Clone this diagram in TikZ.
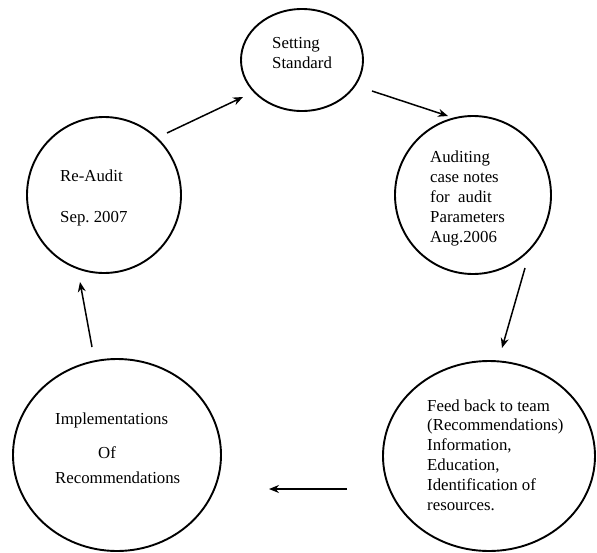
\documentclass[tikz,border=0pt]{standalone}
\usepackage{fontspec}
\setmainfont{Liberation Serif}
\usetikzlibrary{shapes.geometric,arrows.meta}
\frenchspacing
\begin{document}
\begin{tikzpicture}[x=1pt,y=-1pt,
  circ/.style={draw, line width=1.9pt, ellipse, inner sep=0pt},
  txt/.style={anchor=base west, inner sep=0pt, font=\fontsize{16.8}{19.8}\selectfont, align=left},
  arr/.style={line width=1.5pt, -{Stealth[length=10pt,width=8pt]}}]
\useasboundingbox (0,0) rectangle (597,552);
\fill[white] (0,0) rectangle (597,552);
% ellipses
\node[circ, minimum width=122pt, minimum height=102pt] (std) at (302,60) {};
\node[circ, minimum width=156pt, minimum height=158pt] (aud) at (473,195) {};
\node[circ, minimum width=212pt, minimum height=190pt] (feed) at (489,456) {};
\node[circ, minimum width=208pt, minimum height=192pt] (impl) at (117,455) {};
\node[circ, minimum width=154pt, minimum height=156pt] (re) at (104,195) {};
% texts (base = baseline of last line)
\node[txt] (tstd) at (272,68) {Setting\\Standard};
\node[txt] (taud) at (430,242) {Auditing\\case notes\\for\ \ audit\\Parameters\\Aug.2006};
\node[txt] (tfeed) at (427,510) {Feed back to team\\(Recommendations)\\Information,\\Education,\\Identification of\\resources.};
\node[txt] (timpl1) at (55,424) {Implementations};
\node[txt] (timpl2) at (98,458) {Of};
\node[txt] (timpl3) at (55,483) {Recommendations};
\node[txt] (tre1) at (60,181) {Re-Audit};
\node[txt] (tre2) at (60,222) {Sep. 2007};
% arrow endpoints
\coordinate (a1s) at (167,133); \coordinate (a1e) at (243,97);
\coordinate (a2s) at (372,91);  \coordinate (a2e) at (448,116);
\coordinate (a3s) at (525,268); \coordinate (a3e) at (502,348);
\coordinate (a4s) at (347,489); \coordinate (a4e) at (269,489);
\coordinate (a5s) at (92,347);  \coordinate (a5e) at (80,282);
\draw[arr] (a1s) -- (a1e);
\draw[arr] (a2s) -- (a2e);
\draw[arr] (a3s) -- (a3e);
\draw[arr] (a4s) -- (a4e);
\draw[arr] (a5s) -- (a5e);
\end{tikzpicture}
\end{document}
